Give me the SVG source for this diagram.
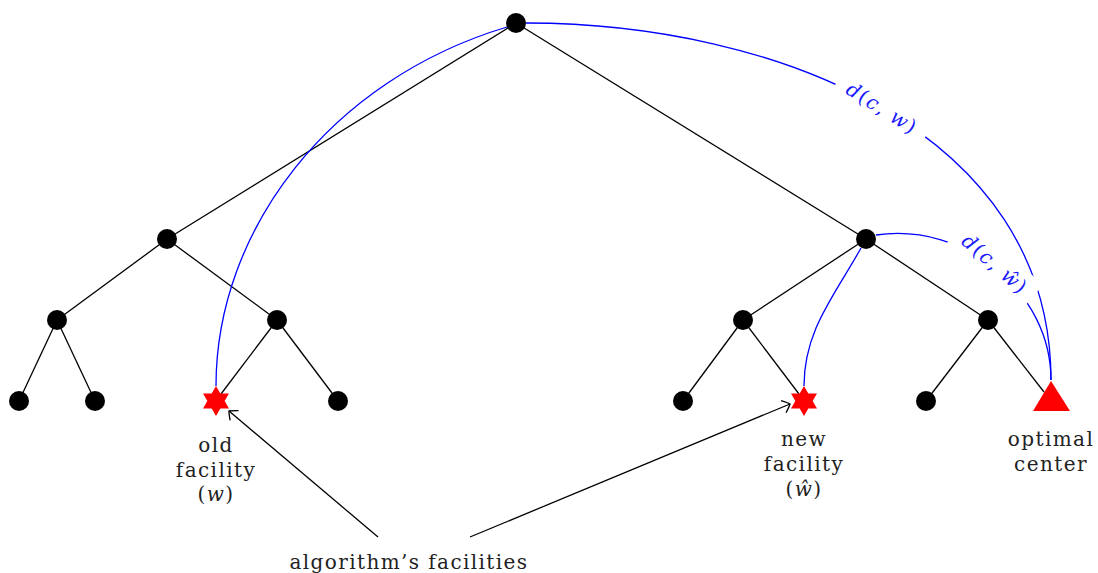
<svg xmlns="http://www.w3.org/2000/svg" width="1098" height="573" viewBox="0 0 1098 573">
<style>
.edge{stroke:#000;stroke-width:1.3;fill:none}
.blue{stroke:#0000ff;stroke-width:1.3;fill:none}
.node{fill:#000}
.red{fill:#ff0000}
.lbl{font-family:"DejaVu Serif","Liberation Serif",serif;font-size:20px;letter-spacing:1.4px;fill:#222;text-anchor:middle}
.math{font-family:"DejaVu Serif","Liberation Serif",serif;font-size:20px;letter-spacing:1.5px;fill:#1a1aff;text-anchor:middle}
.it{font-style:italic}
</style>
<defs>
<path id="star" d="M0,-15 L4.33,-7.5 L12.99,-7.5 L8.66,0 L12.99,7.5 L4.33,7.5 L0,15 L-4.33,7.5 L-12.99,7.5 L-8.66,0 L-12.99,-7.5 L-4.33,-7.5 Z"/>
<marker id="to" viewBox="-10 -8 12 16" refX="0" refY="0" markerWidth="12" markerHeight="16" markerUnits="userSpaceOnUse" orient="auto">
<path d="M-7,-6.5 Q-1.5,-2 0,0 Q-1.5,2 -7,6.5" fill="none" stroke="#000" stroke-width="1.3"/>
</marker>
</defs>
<g id="connectors">
<path class="edge" d="M516,23 L167,239"/>
<path class="edge" d="M516,23 L866,239"/>
<path class="edge" d="M167,239 L57,320"/>
<path class="edge" d="M167,239 L277,320"/>
<path class="edge" d="M57,320 L19,401"/>
<path class="edge" d="M57,320 L95,401"/>
<path class="edge" d="M277,320 L221,394"/>
<path class="edge" d="M277,320 L338,401"/>
<path class="edge" d="M866,239 L743,320"/>
<path class="edge" d="M866,239 L988,320"/>
<path class="edge" d="M743,320 L683,401"/>
<path class="edge" d="M743,320 L799,394"/>
<path class="edge" d="M988,320 L926,401"/>
<path class="edge" d="M988,320 L1044,392"/>
<path class="blue" d="M507,27 C330,80 216,230 216,386"/>
<path class="blue" d="M861,248 C835,295 804,330 804,386"/>
<path class="blue" d="M526,23 C775,23 1051,131 1051,380"/>
<path class="blue" d="M876,235 C965,222 1051,292 1051,380"/>
<path class="edge" d="M378,537 L229,411" marker-end="url(#to)"/>
<path class="edge" d="M470,537 L790,404" marker-end="url(#to)"/>
</g>
<g id="label-dcw" transform="translate(882,108) rotate(32)">
<rect x="-52" y="-15" width="104" height="30" fill="#fff"/>
<text class="math" y="7"><tspan class="it">d</tspan>(<tspan class="it">c</tspan>, <tspan class="it">w</tspan>)</text>
</g>
<g id="label-dcwhat" transform="translate(995,264) rotate(41)">
<rect x="-50" y="-16" width="100" height="32" fill="#fff"/>
<text class="math" y="7"><tspan class="it">d</tspan>(<tspan class="it">c</tspan>, <tspan class="it">ŵ</tspan>)</text>
</g>
<g id="n-root"><circle class="node" cx="516" cy="23" r="10"/></g>
<g id="n-L"><circle class="node" cx="167" cy="239" r="10"/></g>
<g id="n-R"><circle class="node" cx="866" cy="239" r="10"/></g>
<g id="n-LL"><circle class="node" cx="57" cy="320" r="10"/></g>
<g id="n-LR"><circle class="node" cx="277" cy="320" r="10"/></g>
<g id="n-RL"><circle class="node" cx="743" cy="320" r="10"/></g>
<g id="n-RR"><circle class="node" cx="988" cy="320" r="10"/></g>
<g id="n-l1"><circle class="node" cx="19" cy="401" r="10"/></g>
<g id="n-l2"><circle class="node" cx="95" cy="401" r="10"/></g>
<g id="n-l4"><circle class="node" cx="338" cy="401" r="10"/></g>
<g id="n-l5"><circle class="node" cx="683" cy="401" r="10"/></g>
<g id="n-l7"><circle class="node" cx="926" cy="401" r="10"/></g>
<g id="n-old"><use href="#star" class="red" transform="translate(216,401)"/>
<text class="lbl" x="216" y="452">old</text>
<text class="lbl" x="216" y="477">facility</text>
<text class="lbl" x="216" y="501">(<tspan class="it">w</tspan>)</text></g>
<g id="n-new"><use href="#star" class="red" transform="translate(804,401)"/>
<text class="lbl" x="804" y="446">new</text>
<text class="lbl" x="804" y="471">facility</text>
<text class="lbl" x="804" y="496">(<tspan class="it">ŵ</tspan>)</text></g>
<g id="n-opt"><path class="red" d="M1051,381 L1070,411 L1033,411 Z"/>
<text class="lbl" x="1051" y="446">optimal</text>
<text class="lbl" x="1051" y="471">center</text></g>
<g id="n-alg"><text class="lbl" x="409" y="569">algorithm’s facilities</text></g>
</svg>
